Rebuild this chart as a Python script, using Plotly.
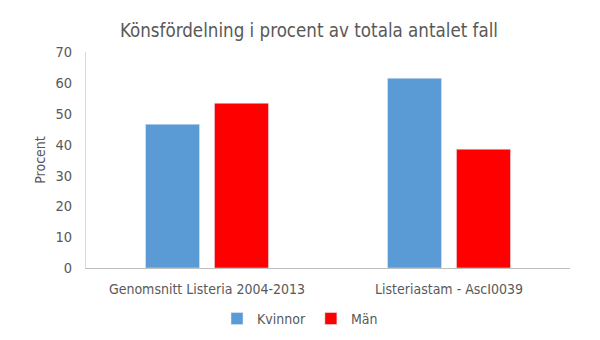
import plotly.graph_objects as go

categories = ["Genomsnitt Listeria 2004-2013", "Listeriastam - AscI0039"]
kvinnor = [46.6, 61.5]
man = [53.4, 38.5]
y_ticks = [0, 10, 20, 30, 40, 50, 60, 70]

font = "DejaVu Sans Condensed"
gray = "#595959"

fig = go.Figure()
fig.add_trace(go.Bar(name="Kvinnor", x=categories, y=kvinnor, marker_color="#5B9BD5"))
fig.add_trace(go.Bar(name="Män", x=categories, y=man, marker_color="#FF0000"))

fig.update_layout(
    width=600, height=340,
    margin=dict(l=85.5, r=30, t=52, b=72),
    paper_bgcolor="white", plot_bgcolor="white",
    barmode="group", bargap=0.43, bargroupgap=0.217,
    title=dict(text="Könsfördelning i procent av totala antalet fall",
               x=0.515, xref="container", xanchor="center", y=0.91, yanchor="middle",
               font=dict(family=font, size=18.6, color=gray)),
    font=dict(family=font, color=gray, size=12),
    showlegend=True,
    legend=dict(orientation="h", x=0.5, xref="container", xanchor="center",
                y=0.062, yref="container", yanchor="middle",
                font=dict(family=font, size=14, color=gray), itemwidth=30,
                traceorder="normal"),
    xaxis=dict(showline=True, linecolor="#BFBFBF", linewidth=1, ticks="",
               ticklabelstandoff=8, automargin=False,
               tickfont=dict(family=font, size=14, color=gray), showgrid=False),
    yaxis=dict(range=[0, 70], tickvals=y_ticks, showline=True, linecolor="#D9D9D9",
               linewidth=1, showgrid=False, zeroline=False, ticks="",
               ticklabelstandoff=10, automargin=False,
               tickfont=dict(family=font, size=14.5, color=gray),
               title=dict(text="Procent", font=dict(family=font, size=14, color=gray), standoff=6)),
)

fig.write_html("out.html")
